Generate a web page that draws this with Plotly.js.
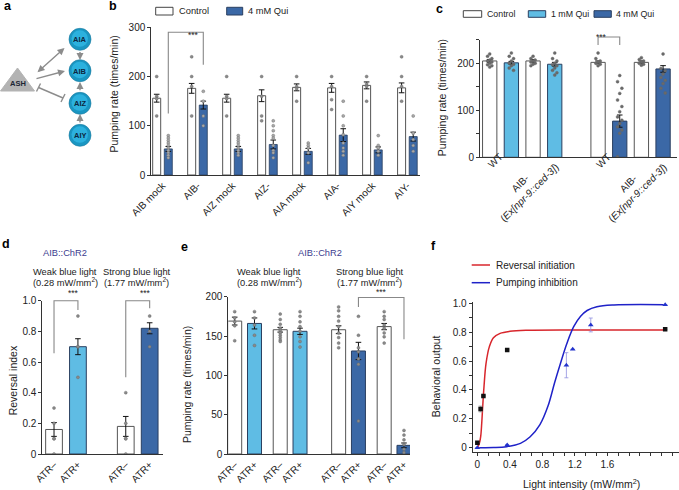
<!DOCTYPE html>
<html><head><meta charset="utf-8">
<script src="https://cdn.plot.ly/plotly-3.0.1.min.js"></script>
<style>html,body{margin:0;padding:0;background:#fff}#chart{width:679px;height:490px}</style>
</head><body><div id="chart"></div>
<script>
// ---------------- DATA ----------------
// Panel b
const bGroups   = ["AIB mock","AIB-","AIZ mock","AIZ-","AIA mock","AIA-","AIY mock","AIY-"];
const bCtrlMean = [156,176,156,161,178,177,182,177];
const bCtrlSem  = [8,10,8,12,7,9,7,10];
const bQuiMean  = [53,142,53,62,48,81,51,78];
const bQuiSem   = [5,8,5,9,6,13,6,9];
const bCtrlDots = [[200,160,155,120],[240,200,180,120],[200,160,155,120],[200,160,120,110],
                   [200,180,175,150],[200,180,153,133],[200,185,180,150],[240,200,180,150]];
const bQuiDots  = [[80,75,70,65,60,55,50,45,40,35],[170,150,120,100],[80,75,70,65,60,55,50,45,40],
                   [110,100,90,80,75,60,50,45,35],[65,60,55,45,25],[150,120,100,82,65,55,48,40],
                   [80,60,55,48,40],[120,85,72,60,48]];
// Panel c
const cStrains  = ["WT","AIB-<br>(<i>Ex[npr-9::ced-3]</i>)"];
const cTreat    = ["Control","1 mM Qui","Control","1 mM Qui","Control","4 mM Qui","Control","4 mM Qui"];
const cMean     = [205,201,205,198,202,77,202,188];
const cSem      = [3,3,3,4,3,13,3,7];
const cDots     = [[220,215,210,207,205,203,200,197,195,192],[222,215,210,205,200,198,195,190,185],
                   [215,210,207,205,203,200,198,195],[222,210,205,200,197,195,190,185,180,175],
                   [222,210,205,203,200,198,195],[174,161,147,136,122,108,97,86,79,72,65,58,51,1],
                   [212,208,205,203,200,198,196],[220,189,184,177,170,164,157,147,137]];
// Panel d
const dLabels   = ["ATR–","ATR+","ATR–","ATR+"];
const dLight    = ["weak","weak","strong","strong"];
const dMean     = [0.16,0.70,0.18,0.82];
const dSem      = [0.045,0.052,0.065,0.036];
const dDots     = [[0.3,0.2,0.1,0.1,0.0],[0.9,0.7,0.7,0.5],[0.4,0.2,0.1,0.1,0.0],[0.9,0.8,0.7]];
// Panel e
const eLabels   = ["ATR–","ATR+","ATR–","ATR+","ATR–","ATR+","ATR–","ATR+"];
const eLight    = ["weak","weak","weak","weak","strong","strong","strong","strong"];
const eMean     = [169,166,158,156,158,131,162,11];
const eSem      = [5,7,3,4,5,11,4,3];
const eDots     = [[181,173,168,163,144],[181,173,164,151,138],[178,171,165,160,157,154,151,148,145,143],
                   [181,175,168,162,156,149,143,136],[187,182,175,169,162,154,148,141,135],
                   [175,151,135,130,121,114,42],[181,175,171,164,160,154,149,141],[30,24,18,12,6,2]];
// Panel f
const fRevX  = [0,0.04,0.075,0.367,2.31];
const fRevY  = [0.035,0.268,0.358,0.677,0.82];
const fRevE  = [0,0.02,0,0,0];
const fPumpX = [0,0.367,1.095,1.173,1.395,2.31];
const fPumpY = [0,0.019,0.571,0.681,0.85,0.99];
const fPumpE = [0,0,0.087,0,0.048,0];
const fRevFitX  = [0,0.025,0.041,0.054,0.066,0.082,0.107,0.148,0.198,0.28,0.40,0.61,1.27,2.31];
const fRevFitY  = [0,0.03,0.076,0.169,0.284,0.423,0.584,0.70,0.762,0.792,0.806,0.813,0.815,0.815];
const fPumpFitX = [0,0.2,0.36,0.53,0.65,0.77,0.87,0.95,1.02,1.10,1.185,1.27,1.35,1.47,1.68,2.31];
const fPumpFitY = [0,0.001,0.007,0.03,0.076,0.16,0.29,0.45,0.58,0.72,0.838,0.91,0.95,0.976,0.988,0.99];

// ---------------- STYLE / LAYOUT HELPERS ----------------
const W=679,H=490;
const px=v=>v/W, py=v=>1-v/H;
const WHITE='#ffffff', LIGHT='#5fbce4', DARK='#3b68a6';
const treatColor={"Control":WHITE,"1 mM Qui":LIGHT,"4 mM Qui":DARK};
const lineCol=c=> c===WHITE?'#555':'#2a3f60';
const FONT='Liberation Sans, Arial, sans-serif';
const TF=10, TT=10.5, HF=9.3;

function mapper(dom,rng){return v=>dom[0]+(v-rng[0])/(rng[1]-rng[0])*(dom[1]-dom[0]);}

const bXD=[px(151.3),px(420)], bYD=[py(175),py(27.3)], bXR=[-0.32,7.36], bYR=[0,300];
const cXD=[px(480),px(677)], cYD=[py(157.3),py(39.8)], cXR=[-0.448,8.643], cYR=[0,250];
const dXD=[px(42.3),px(163.3)], dYD=[py(454),py(300.7)], dXR=[-0.49,4.57], dYR=[0,1];
const eXD=[px(228.3),px(410)], eYD=[py(454),py(296.7)], eXR=[-0.323,8.854], eYR=[0,200];
const fXD=[px(472.7),1], fYD=[py(452.3),py(301.7)], fXR=[-0.057,2.48], fYR=[-0.032,1.011];

// positions
const bCtrlX=bGroups.map((g,i)=>i-0.166), bQuiX=bGroups.map((g,i)=>i+0.166);
const cX=cTreat.map((t,k)=>Math.floor(k/4)*5+(k%4));
const dX=dLabels.map((l,k)=>Math.floor(k/2)*3+(k%2));
const eX=eLabels.map((l,k)=>Math.floor(k/4)*5.25+Math.floor((k%4)/2)*2.3+(k%2));

const traces=[];
function dotTrace(xs,lists,xa,ya,col,jit){
  const x=[],y=[];
  lists.forEach((lst,i)=>lst.forEach((v,k)=>{x.push(xs[i]+(jit?jit[k%jit.length]:0));y.push(v);}));
  return {type:'scatter',mode:'markers',x,y,xaxis:xa,yaxis:ya,hoverinfo:'skip',
    marker:{size:3,color:col,line:{width:0.4,color:'#666'}}};
}
function errObj(arr){return {type:'data',array:arr,visible:true,color:'#111',thickness:1,width:2.8};}

// b
traces.push({type:'bar',x:bCtrlX,y:bCtrlMean,width:0.229,xaxis:'x',yaxis:'y',
  marker:{color:WHITE,line:{color:'#555',width:1}},error_y:errObj(bCtrlSem)});
traces.push({type:'bar',x:bQuiX,y:bQuiMean,width:0.229,xaxis:'x',yaxis:'y',
  marker:{color:DARK,line:{color:'#2a3f60',width:0.8}},error_y:errObj(bQuiSem)});
traces.push(dotTrace(bCtrlX,bCtrlDots,'x','y','#8a8a8a'));
traces.push(dotTrace(bQuiX,bQuiDots,'x','y','#a8a8a8'));
// c
const cCols=cTreat.map(t=>treatColor[t]);
traces.push({type:'bar',x:cX,y:cMean,width:0.66,xaxis:'x2',yaxis:'y2',
  marker:{color:cCols,line:{color:cCols.map(lineCol),width:1}},error_y:errObj(cSem)});
traces.push(dotTrace(cX,cDots,'x2','y2','#6a6a6a',[0,-0.1,0.1]));
// d
const dCols=dLabels.map((l,k)=>l==="ATR+"?(dLight[k]==="weak"?LIGHT:DARK):WHITE);
traces.push({type:'bar',x:dX,y:dMean,width:0.7,xaxis:'x3',yaxis:'y3',
  marker:{color:dCols,line:{color:dCols.map(lineCol),width:1}},error_y:errObj(dSem)});
traces.push(dotTrace(dX,dDots,'x3','y3','#8a8a8a'));
// e
const eCols=eLabels.map((l,k)=>l==="ATR+"?(eLight[k]==="weak"?LIGHT:DARK):WHITE);
traces.push({type:'bar',x:eX,y:eMean,width:0.707,xaxis:'x4',yaxis:'y4',
  marker:{color:eCols,line:{color:eCols.map(lineCol),width:1}},error_y:errObj(eSem)});
traces.push(dotTrace(eX,eDots,'x4','y4','#8a8a8a'));
// f
traces.push({type:'scatter',mode:'lines',x:fRevFitX,y:fRevFitY,xaxis:'x5',yaxis:'y5',
  line:{color:'#d8262c',width:1.5,shape:'spline'},hoverinfo:'skip'});
traces.push({type:'scatter',mode:'lines',x:fPumpFitX,y:fPumpFitY,xaxis:'x5',yaxis:'y5',
  line:{color:'#1f22c8',width:1.5,shape:'spline'},hoverinfo:'skip'});
traces.push({type:'scatter',mode:'markers',x:fRevX,y:fRevY,xaxis:'x5',yaxis:'y5',
  marker:{symbol:'square',size:4.5,color:'#111'},
  error_y:{type:'data',array:fRevE,color:'#999',thickness:0.8,width:2}});
traces.push({type:'scatter',mode:'markers',x:fPumpX,y:fPumpY,xaxis:'x5',yaxis:'y5',
  marker:{symbol:'triangle-up',size:5,color:'#2233cc'},
  error_y:{type:'data',array:fPumpE,color:'#8f8fe0',thickness:0.8,width:2}});

// axes
const baseAx={showline:true,linecolor:'#333',linewidth:1,showgrid:false,zeroline:false,
  tickcolor:'#333',tickwidth:1,ticklen:3,tickfont:{size:TF,color:'#222'},fixedrange:true};
function yax(dom,rng,tv,tt,anchor){return Object.assign({},baseAx,{domain:dom,range:rng,anchor,
  tickmode:'array',tickvals:tv,ticktext:tt,ticks:'outside'});}
function xax(dom,rng,tv,tt,anchor){return Object.assign({},baseAx,{domain:dom,range:rng,anchor,
  tickmode:'array',tickvals:tv,ticktext:tt,ticks:'',tickangle:-45});}

const layout={
  width:W,height:H,margin:{l:0,r:0,t:0,b:0},paper_bgcolor:'#fff',plot_bgcolor:'rgba(0,0,0,0)',
  showlegend:false,barmode:'overlay',font:{family:FONT,color:'#222'},
  xaxis:xax(bXD,bXR,bGroups.map((g,i)=>i),bGroups,'y'),
  yaxis:yax(bYD,bYR,[0,100,200,300],['0','100','200','300'],'x'),
  xaxis2:xax(cXD,cXR,[],[],'y2'),
  yaxis2:yax(cYD,cYR,[0,50,100,150,200,250],['0','','100','','200',''],'x2'),
  xaxis3:xax(dXD,dXR,dX,dLabels,'y3'),
  yaxis3:yax(dYD,dYR,[0,0.2,0.4,0.6,0.8,1.0],['0','0.2','0.4','0.6','0.8','1.0'],'x3'),
  xaxis4:xax(eXD,eXR,eX,eLabels,'y4'),
  yaxis4:yax(eYD,eYR,[0,50,100,150,200],['0','50','100','150','200'],'x4'),
  xaxis5:Object.assign({},baseAx,{domain:fXD,range:fXR,anchor:'y5',tickmode:'array',
     tickvals:[0,0.4,0.8,1.2,1.6,2.0,2.4],ticktext:['0','0.4','0.8','1.2','1.6','',''],ticks:'outside',
     minor:{tickmode:'linear',tick0:0,dtick:0.4/3,ticks:'outside',ticklen:3,tickcolor:'#333'}}),
  yaxis5:Object.assign({},baseAx,{domain:fYD,range:fYR,anchor:'x5',tickmode:'array',
     tickvals:[0,0.2,0.4,0.6,0.8,1.0],ticktext:['0','0.2','0.4','0.6','0.8','1.0'],ticks:'outside',
     minor:{tickmode:'linear',tick0:0,dtick:0.1,ticks:'outside',ticklen:3,tickcolor:'#333'}}),
  shapes:[],annotations:[]
};
const S=layout.shapes, A=layout.annotations;
function txt(text,x,y,o){A.push(Object.assign({text,x:px(x),y:py(y),xref:'paper',yref:'paper',showarrow:false,
  xanchor:'center',yanchor:'middle',font:{size:TF,color:'#222',family:FONT}},o||{}));}
function ytitle(text,x,y){txt(text,x,y,{textangle:-90,font:{size:TT,color:'#222',family:FONT}});}
function rect(x0,y0,x1,y1,fill,line){S.push({type:'rect',xref:'paper',yref:'paper',x0:px(x0),x1:px(x1),y0:py(y0),y1:py(y1),
  fillcolor:fill,line:{color:line,width:1}});}
function path(pts,col,w){S.push({type:'path',xref:'paper',yref:'paper',
  path:'M'+pts.map(p=>px(p[0])+','+py(p[1])).join(' L'),line:{color:col,width:w||1}});}
const LEGB={font:{size:9.3,color:'#222',family:FONT},xanchor:'left'};
const LEGC={font:{size:8.8,color:'#222',family:FONT},xanchor:'left'};

// panel letters
[['a',8,6],['b',113,6],['c',439,9],['d',6,244],['e',184,247],['f',434,246]].forEach(l=>
  txt('<b>'+l[0]+'</b>',l[1],l[2],{font:{size:12.5,color:'#000',family:FONT}}));

// ---- panel a diagram ----
S.push({type:'path',xref:'paper',yref:'paper',path:`M${px(0.5)},${py(91)} L${px(34.5)},${py(91)} L${px(17.5)},${py(68)} Z`,
  fillcolor:'#b3b3b3',line:{color:'#b3b3b3',width:1}});
txt('<b>ASH</b>',17.5,83,{font:{size:7.5,color:'#1c2533',family:FONT}});
[['AIA',39.3],['AIB',70.7],['AIZ',103.3],['AIY',135.3]].forEach(n=>{
  const cx=80,cy=n[1],r=11;
  S.push({type:'circle',xref:'paper',yref:'paper',x0:px(cx-r),x1:px(cx+r),y0:py(cy+r),y1:py(cy-r),
    fillcolor:'#1a96c2',line:{color:'#17799e',width:0.6}});
  S.push({type:'circle',xref:'paper',yref:'paper',x0:px(cx-8.5),x1:px(cx+8),y0:py(cy+7.5),y1:py(cy-9),
    fillcolor:'#2cb1de',line:{width:0}});
  txt('<b>'+n[0]+'</b>',cx,cy+0.5,{font:{size:7.5,color:'#0c2740',family:FONT}});
});
function arrow(tx,ty,hx,hy,both){A.push({text:'',x:px(hx),y:py(hy),xref:'paper',yref:'paper',
  ax:tx-hx,ay:ty-hy,axref:'pixel',ayref:'pixel',showarrow:true,arrowhead:2,arrowsize:1,arrowwidth:1.4,
  arrowcolor:'#8c8c8c',standoff:0,startstandoff:0,arrowside:both?'end+start':'end',startarrowhead:2,startarrowsize:1});}
arrow(36,73.5,64.5,48,true);
arrow(35,79,65,71);
arrow(80,50.5,80,60);
arrow(80,91.7,80,82);
arrow(80,124,80,114);
path([[38.5,87.5],[63,98]],'#8c8c8c',1.4);
path([[36.5,91.5],[40.5,83.5]],'#8c8c8c',1.4);
path([[61,102],[65,94]],'#8c8c8c',1.4);

// ---- panel b extras ----
rect(155.7,7.3,173,15,WHITE,'#444'); txt('Control',177,11.2,LEGB);
rect(226.7,7.3,242.7,15,DARK,'#2a3f60'); txt('4 mM Qui',246,11.2,LEGB);
ytitle('Pumping rate (times/min)',113.5,94);
{const bx=mapper(bXD,bXR), by=mapper(bYD,bYR);
 S.push({type:'path',xref:'paper',yref:'paper',path:`M${bx(0.166)},${by(125)} L${bx(0.166)},${by(290)} L${bx(1.166)},${by(290)} L${bx(1.166)},${by(224)}`,line:{color:'#888',width:1.1}});
 A.push({text:'***',x:bx(0.666),y:py(27.5),xref:'paper',yref:'paper',showarrow:false,font:{size:8.5,color:'#222'}});}

// ---- panel c extras ----
rect(463.3,10.7,481.7,17.3,WHITE,'#444'); txt('Control',485.2,14,LEGC);
rect(528.3,10.7,545.7,17.3,LIGHT,'#2a3f60'); txt('1 mM Qui',548.5,14,LEGC);
rect(594,10.7,611.3,17.3,DARK,'#2a3f60'); txt('4 mM Qui',614,14,LEGC);
ytitle('Pumping rate (times/min)',441.7,97.5);
{const cx=mapper(cXD,cXR);
 [0,1].forEach(s=>{
   txt(cStrains[0],cx(s*5+0.5)*W-5,161,{textangle:-45});
   txt(cStrains[1],cx(s*5+2.5)*W-19,188,{textangle:-45,align:'center'});
 });
 S.push({type:'path',xref:'paper',yref:'paper',path:`M${cx(5)},${py(45)} L${cx(5)},${py(37)} L${cx(6)},${py(37)} L${cx(6)},${py(45)}`,line:{color:'#888',width:1.1}});
 A.push({text:'***',x:cx(5.5),y:py(30),xref:'paper',yref:'paper',showarrow:false,font:{size:8.5,color:'#222'}});}

// ---- panel d extras ----
const BLUE_T='#3d3d8f';
txt('AIB::ChR2',65,252.7,{font:{size:HF,color:BLUE_T,family:FONT}});
txt('Weak blue light',65,271.5,{font:{size:HF,color:'#222',family:FONT}});
txt('(0.28 mW/mm<sup>2</sup>)',65,282,{font:{size:HF,color:'#222',family:FONT}});
txt('Strong blue light',136.7,271.5,{font:{size:HF,color:'#222',family:FONT}});
txt('(1.77 mW/mm<sup>2</sup>)',136.7,282,{font:{size:HF,color:'#222',family:FONT}});
ytitle('Reversal index',13.3,380);
{const dx=mapper(dXD,dXR), dy=mapper(dYD,dYR);
 S.push({type:'path',xref:'paper',yref:'paper',path:`M${dx(0)},${dy(0.657)} L${dx(0)},${dy(1.0)} L${dx(1)},${dy(1.0)} L${dx(1)},${dy(0.94)}`,line:{color:'#888',width:1.1}});
 S.push({type:'path',xref:'paper',yref:'paper',path:`M${dx(3)},${dy(0.5)} L${dx(3)},${dy(1.0)} L${dx(4)},${dy(1.0)} L${dx(4)},${dy(0.95)}`,line:{color:'#888',width:1.1}});
 A.push({text:'***',x:dx(0.5),y:py(293),xref:'paper',yref:'paper',showarrow:false,font:{size:8.5,color:'#222'}});
 A.push({text:'***',x:dx(3.5),y:py(293),xref:'paper',yref:'paper',showarrow:false,font:{size:8.5,color:'#222'}});}

// ---- panel e extras ----
txt('AIB::ChR2',320,252.7,{font:{size:HF,color:BLUE_T,family:FONT}});
txt('Weak blue light',269.2,271.7,{font:{size:HF,color:'#222',family:FONT}});
txt('(0.28 mW/mm<sup>2</sup>)',269.2,282,{font:{size:HF,color:'#222',family:FONT}});
txt('Strong blue light',370,271.7,{font:{size:HF,color:'#222',family:FONT}});
txt('(1.77 mW/mm<sup>2</sup>)',370,282,{font:{size:HF,color:'#222',family:FONT}});
ytitle('Pumping rate (times/min)',187,385);
{const ex=mapper(eXD,eXR), ey=mapper(eYD,eYR);
 S.push({type:'path',xref:'paper',yref:'paper',path:`M${ex(eX[5])},${ey(187)} L${ex(eX[5])},${ey(199)} L${ex(eX[7])},${ey(199)} L${ex(eX[7])},${ey(146)}`,line:{color:'#888',width:1.1}});
 A.push({text:'***',x:ex((eX[5]+eX[7])/2),y:py(292),xref:'paper',yref:'paper',showarrow:false,font:{size:8.5,color:'#222'}});}

// ---- panel f extras ----
path([[471.7,265],[490,265]],'#d8262c',1.5); txt('Reversal initiation',494,265,{xanchor:'left'});
path([[471.7,282.7],[490,282.7]],'#1f22c8',1.5); txt('Pumping inhibition',494,282.7,{xanchor:'left'});
ytitle('Behavioral output',435.5,376.7);
txt('Light intensity (mW/mm<sup>2</sup>)',581,483,{font:{size:TT,color:'#222',family:FONT}});

Plotly.newPlot('chart',traces,layout,{displayModeBar:false,staticPlot:true});
</script></body></html>
